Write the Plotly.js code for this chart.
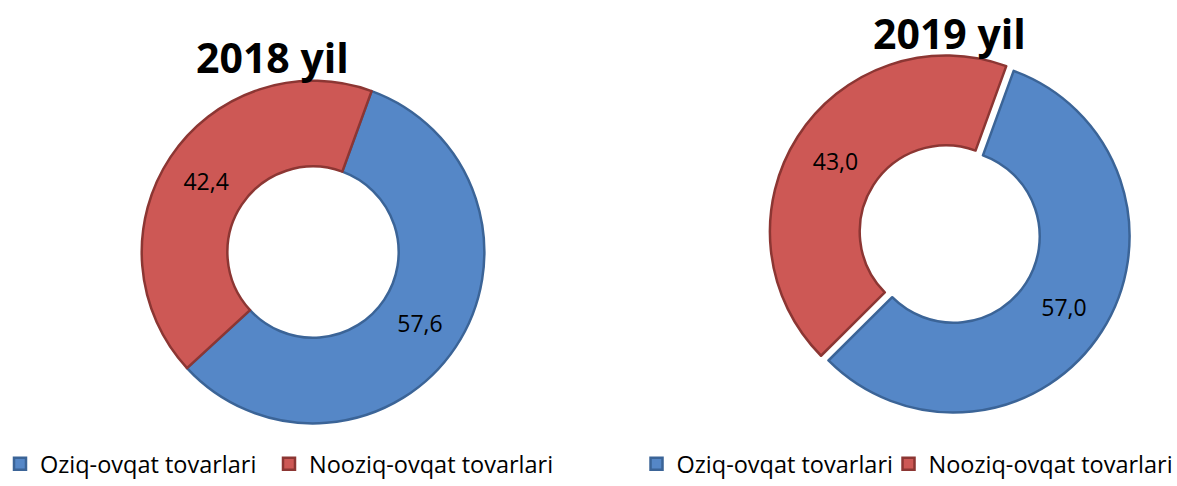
<!DOCTYPE html>
<html>
<head>
<meta charset="utf-8">
<script src="https://cdn.plot.ly/plotly-3.0.1.min.js"></script>
<style>
  html, body { margin: 0; padding: 0; background: #ffffff; }
  #chart { width: 1177px; height: 486px; }
</style>
</head>
<body>
<div id="chart"></div>
<script>
// ---- data ----
const categories = ['Oziq-ovqat tovarlari', 'Nooziq-ovqat tovarlari'];
const values2018 = [57.6, 42.4];
const values2019 = [57.0, 43.0];
const titles = ['2018 yil', '2019 yil'];
const pull2019 = [0.05, 0];

// ---- styles ----
const sliceColors = ['#5587C7', '#CD5855'];
const edgeColors = ['#3B6497', '#8C3633'];
const font = 'Open Sans, Noto Sans, sans-serif';

function donut(values, domain, legendId, group, hole, pull) {
  return {
    type: 'pie',
    labels: categories,
    values: values,
    sort: false,
    direction: 'clockwise',
    rotation: 20,
    hole: hole,
    pull: pull || 0,
    domain: domain,
    legend: legendId,
    legendgroup: group,
    marker: { colors: sliceColors, line: { color: edgeColors, width: 2.5 } },
    texttemplate: '%{value:.1f}',
    textposition: 'inside',
    insidetextorientation: 'horizontal',
    textfont: { family: font, size: 23, color: '#000000' },
    hoverinfo: 'label+value'
  };
}

const data = [
  donut(values2018, { x: [0.1164, 0.4155], y: [0.1049, 0.8292] }, 'legend', 'y2018', 0.5),
  donut(values2019, { x: [0.6423, 0.9652], y: [0.1193, 0.9012] }, 'legend2', 'y2019', 0.49, pull2019)
];

const legendBase = {
  orientation: 'h',
  traceorder: 'normal',
  yanchor: 'middle',
  y: 0.018,
  xanchor: 'left',
  font: { family: font, size: 23.5, color: '#000000' },
  bgcolor: 'rgba(0,0,0,0)'
};

const layout = {
  width: 1177,
  height: 486,
  margin: { l: 0, r: 0, t: 0, b: 0 },
  paper_bgcolor: '#ffffff',
  separators: ', ',
  showlegend: true,
  legend: Object.assign({}, legendBase, { x: 0, entrywidth: 224 }),
  legend2: Object.assign({}, legendBase, { x: 0.5408, entrywidth: 207 }),
  annotations: [
    { text: '<b>' + titles[0] + '</b>', x: 0.2311, y: 0.88, xref: 'paper', yref: 'paper',
      xanchor: 'center', yanchor: 'middle', showarrow: false,
      font: { family: font, size: 41, color: '#000000' } },
    { text: '<b>' + titles[1] + '</b>', x: 0.8071, y: 0.93, xref: 'paper', yref: 'paper',
      xanchor: 'center', yanchor: 'middle', showarrow: false,
      font: { family: font, size: 41, color: '#000000' } }
  ]
};

Plotly.newPlot('chart', data, layout, { displayModeBar: false, staticPlot: true }).then(function (gd) {
  // let the last legend entry's text run past its fixed entry width (no clipping)
  gd.querySelectorAll('.scrollbox').forEach(function (el) {
    el.removeAttribute('clip-path');
  });
});
</script>
</body>
</html>
